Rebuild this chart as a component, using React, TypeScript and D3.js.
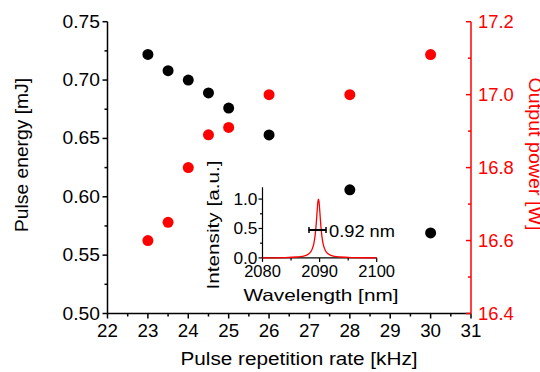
import React from "react";
import * as d3 from "d3";

const rateKHz = [23, 23.5, 24, 24.5, 25, 26, 28, 30];
const pulseEnergy = [0.722, 0.708, 0.700, 0.689, 0.676, 0.653, 0.606, 0.569];
const outputPower = [16.6, 16.65, 16.8, 16.89, 16.91, 17.0, 17.0, 17.11];

const xTicks = [22, 23, 24, 25, 26, 27, 28, 29, 30, 31];
const yLeftTicks = [0.5, 0.55, 0.6, 0.65, 0.7, 0.75];
const yRightTicks = [16.4, 16.6, 16.8, 17.0, 17.2];

const wavelength = [2080, 2084, 2086, 2087, 2087.5, 2088, 2088.4, 2088.7, 2089.0, 2089.2, 2089.4, 2089.55, 2089.7, 2089.8, 2089.9, 2090.05, 2090.2, 2090.4, 2090.6, 2090.9, 2091.2, 2091.6, 2092.1, 2092.6, 2093.6, 2095.6, 2100];
const intensity = [0.002, 0.006, 0.015, 0.026, 0.038, 0.061, 0.097, 0.149, 0.249, 0.37, 0.569, 0.772, 0.955, 1.0, 0.955, 0.772, 0.569, 0.37, 0.249, 0.149, 0.097, 0.061, 0.038, 0.026, 0.015, 0.006, 0.002];
const insetXTicks = [2080, 2090, 2100];
const insetYTicks = [0, 0.5, 1.0];

const FONT = "'Liberation Sans', Arial, sans-serif";
const RED = "#ff0000";

function numWidth(s: string, fs: number) {
  let w = 0;
  for (const c of s) w += c === "." ? 0.278 : 0.556;
  return w * fs;
}

type TProps = {
  x: number;
  y: number;
  text: string;
  fs: number;
  len: number;
  anchor?: "start" | "middle" | "end";
  rot?: number;
  fill?: string;
};

function T({ x, y, text, fs, len, anchor = "middle", rot = 0, fill = "#000" }: TProps) {
  return (
    <text
      transform={`translate(${x},${y}) rotate(${rot})`}
      textAnchor={anchor}
      fontSize={fs}
      fill={fill}
      textLength={len}
      lengthAdjust="spacingAndGlyphs"
    >
      {text}
    </text>
  );
}

export default function App() {
  const x = d3.scaleLinear().domain([22, 31]).range([107.5, 471]);
  const yL = d3.scaleLinear().domain([0.5, 0.75]).range([313.5, 21.7]);
  const yR = d3.scaleLinear().domain([16.4, 17.2]).range([313.5, 21.7]);

  const ix = d3.scaleLinear().domain([2080, 2100]).range([262.5, 376.7]);
  const iy = d3.scaleLinear().domain([0, 1.2]).range([257.9, 187.3]);

  const line = d3
    .line<number>()
    .x((_, i) => ix(wavelength[i]))
    .y((d) => iy(d))
    .curve(d3.curveMonotoneX);

  const xMinor = d3.range(22.5, 31, 1);
  const yLMinor = d3.range(0.525, 0.75, 0.05);
  const yRMinor = d3.range(16.5, 17.2, 0.2);
  const ixMinor = [2085, 2095];
  const iyMinor = [0.25, 0.75];

  const [y0, y1] = [yL(0.5), yL(0.75)];
  const x0 = x(22), x1 = x(31);
  const FS = 17.5;
  const IFS = 16.5;

  return (
    <svg width={540} height={372} style={{ position: "absolute", left: 0, top: 0, background: "#fff" }} fontFamily={FONT}>
      {/* main axes */}
      <line x1={x0} y1={y0} x2={x1} y2={y0} stroke="#000" strokeWidth={1.5} />
      <line x1={x0} y1={y0} x2={x0} y2={y1} stroke="#000" strokeWidth={1.5} />
      <line x1={x1} y1={y0} x2={x1} y2={y1} stroke={RED} strokeWidth={1.5} />

      {xTicks.map((t) => (
        <g key={"xt" + t}>
          <line x1={x(t)} x2={x(t)} y1={y0} y2={y0 + 5} stroke="#000" strokeWidth={1.5} />
          <T x={x(t)} y={336.7} text={String(t)} fs={FS} len={numWidth(String(t), FS) * 1.07} />
        </g>
      ))}
      {xMinor.map((t) => (
        <line key={"xm" + t} x1={x(t)} x2={x(t)} y1={y0} y2={y0 + 3} stroke="#000" strokeWidth={1.5} />
      ))}
      {yLeftTicks.map((t) => (
        <g key={"yl" + t}>
          <line x1={x0 - 5} x2={x0} y1={yL(t)} y2={yL(t)} stroke="#000" strokeWidth={1.5} />
          <T x={x0 - 7.5} y={yL(t) + 6} text={t.toFixed(2)} fs={FS} len={numWidth(t.toFixed(2), FS) * 1.1} anchor="end" />
        </g>
      ))}
      {yLMinor.map((t) => (
        <line key={"ylm" + t} x1={x0 - 3} x2={x0} y1={yL(t)} y2={yL(t)} stroke="#000" strokeWidth={1.5} />
      ))}
      {yRightTicks.map((t) => (
        <g key={"yr" + t}>
          <line x1={x1 - 5} x2={x1} y1={yR(t)} y2={yR(t)} stroke={RED} strokeWidth={1.5} />
          <T x={x1 + 7} y={yR(t) + 6} text={t.toFixed(1)} fs={FS} len={numWidth(t.toFixed(1), FS) * 1.05} anchor="start" fill={RED} />
        </g>
      ))}
      {yRMinor.map((t) => (
        <line key={"yrm" + t} x1={x1 - 3} x2={x1} y1={yR(t)} y2={yR(t)} stroke={RED} strokeWidth={1.5} />
      ))}

      <T x={299} y={365} text="Pulse repetition rate [kHz]" fs={FS} len={237} />
      <T x={28} y={155} text="Pulse energy [mJ]" fs={FS} len={154} rot={-90} />
      <T x={528.5} y={154} text="Output power [W]" fs={FS} len={153} rot={90} fill={RED} />

      {/* data */}
      {rateKHz.map((r, i) => (
        <circle key={"b" + i} cx={x(r)} cy={yL(pulseEnergy[i])} r={5.5} fill="#000" />
      ))}
      {rateKHz.map((r, i) => (
        <circle key={"r" + i} cx={x(r)} cy={yR(outputPower[i])} r={5.5} fill={RED} />
      ))}

      {/* inset */}
      <line x1={ix(2080)} x2={ix(2100)} y1={iy(0)} y2={iy(0)} stroke="#000" strokeWidth={1.2} />
      <line x1={ix(2080)} x2={ix(2080)} y1={iy(0)} y2={iy(1.2)} stroke="#000" strokeWidth={1.2} />
      {insetXTicks.map((t) => (
        <g key={"ix" + t}>
          <line x1={ix(t)} x2={ix(t)} y1={iy(0)} y2={iy(0) + 4} stroke="#000" strokeWidth={1.2} />
          <T x={ix(t)} y={276.5} text={String(t)} fs={IFS} len={numWidth(String(t), IFS)} />
        </g>
      ))}
      {ixMinor.map((t) => (
        <line key={"ixm" + t} x1={ix(t)} x2={ix(t)} y1={iy(0)} y2={iy(0) + 2.5} stroke="#000" strokeWidth={1.2} />
      ))}
      {insetYTicks.map((t) => (
        <g key={"iy" + t}>
          <line x1={ix(2080) - 4} x2={ix(2080)} y1={iy(t)} y2={iy(t)} stroke="#000" strokeWidth={1.2} />
          <T x={ix(2080) - 5} y={iy(t) + 6} text={t.toFixed(1)} fs={IFS} len={numWidth(t.toFixed(1), IFS) * 1.05} anchor="end" />
        </g>
      ))}
      {iyMinor.map((t) => (
        <line key={"iym" + t} x1={ix(2080) - 2.5} x2={ix(2080)} y1={iy(t)} y2={iy(t)} stroke="#000" strokeWidth={1.2} />
      ))}
      <path d={line(intensity) || ""} fill="none" stroke={RED} strokeWidth={1.3} />
      <T x={321} y={300.5} text="Wavelength [nm]" fs={IFS} len={155} />
      <T x={218.5} y={225} text="Intensity [a.u.]" fs={IFS} len={129} rot={-90} />

      {/* FWHM marker */}
      <line x1={308.5} x2={326.5} y1={iy(0.5) + 1.5} y2={iy(0.5) + 1.5} stroke="#000" strokeWidth={2} />
      <line x1={309} x2={309} y1={iy(0.5) - 1.5} y2={iy(0.5) + 4.5} stroke="#000" strokeWidth={1.5} />
      <line x1={326} x2={326} y1={iy(0.5) - 1.5} y2={iy(0.5) + 4.5} stroke="#000" strokeWidth={1.5} />
      <T x={329} y={236.7} text="0.92 nm" fs={IFS} len={66} anchor="start" />
    </svg>
  );
}
